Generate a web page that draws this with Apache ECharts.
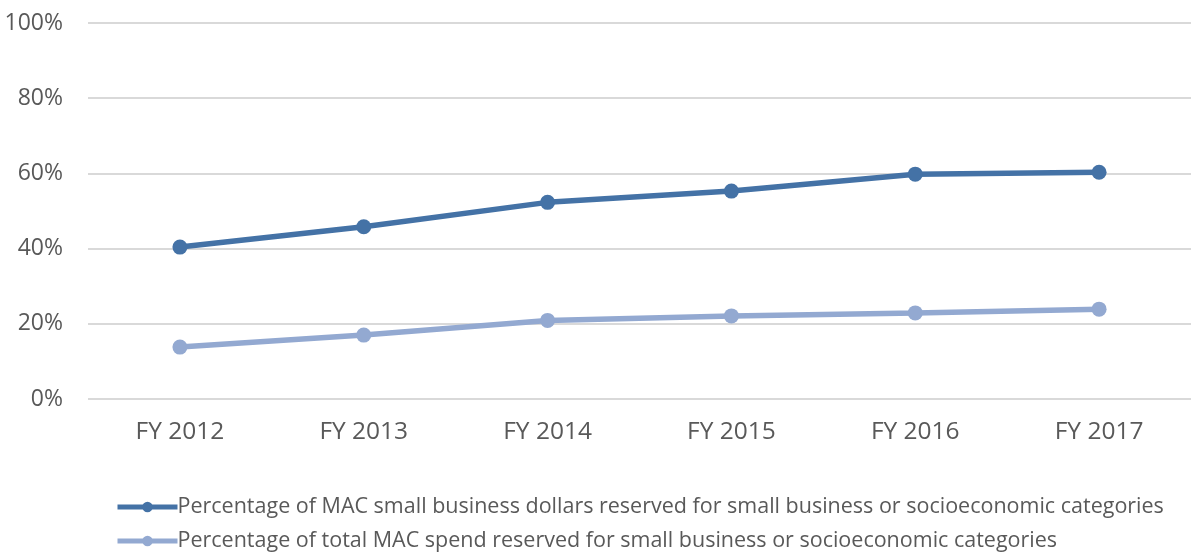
<!DOCTYPE html>
<html>
<head>
<meta charset="utf-8">
<script src="https://cdn.jsdelivr.net/npm/echarts@6/dist/echarts.min.js"></script>
<style>
  html, body { margin: 0; padding: 0; background: #ffffff; }
  #chart { width: 1191px; height: 554px; }
</style>
</head>
<body>
<div id="chart"></div>
<script>
// data
const years = ['FY 2012', 'FY 2013', 'FY 2014', 'FY 2015', 'FY 2016', 'FY 2017'];
const smallBizDollars = [40.4, 45.8, 52.3, 55.3, 59.8, 60.3];
const totalSpend = [13.8, 17.0, 20.9, 22.1, 22.9, 23.9];
const seriesNames = [
  'Percentage of MAC small business dollars reserved for small business or socioeconomic categories',
  'Percentage of total MAC spend reserved for small business or socioeconomic categories'
];

const chart = echarts.init(document.getElementById('chart'));
const textFont = 'Open Sans';

chart.setOption({
  animation: false,
  grid: {
    left: 88,
    right: -7,
    top: 23,
    bottom: 155
  },
  legend: {
    orient: 'vertical',
    left: 115,
    top: 496,
    padding: 0,
    itemGap: 12,
    itemWidth: 60,
    itemHeight: 13,
    data: seriesNames,
    lineStyle: { width: 5 },
    textStyle: {
      fontFamily: textFont,
      fontSize: 21.5,
      color: '#595959',
      padding: [0, 0, 0, -5]
    }
  },
  xAxis: {
    type: 'category',
    data: years,
    axisLine: { show: false },
    axisTick: { show: false },
    axisLabel: {
      margin: 21,
      fontFamily: textFont,
      fontSize: 24.5,
      color: '#595959'
    }
  },
  yAxis: {
    type: 'value',
    min: 0,
    max: 100,
    interval: 20,
    axisLabel: {
      formatter: '{value}%',
      margin: 25,
      fontFamily: textFont,
      fontSize: 23,
      color: '#595959'
    },
    splitLine: { lineStyle: { color: '#d9d9d9', width: 2 } }
  },
  series: [
    {
      name: seriesNames[0],
      type: 'line',
      data: smallBizDollars,
      symbol: 'circle',
      symbolSize: 15,
      lineStyle: { width: 5.5, color: '#4472a6' },
      itemStyle: { color: '#4472a6' }
    },
    {
      name: seriesNames[1],
      type: 'line',
      data: totalSpend,
      symbol: 'circle',
      symbolSize: 15,
      lineStyle: { width: 5.5, color: '#93a9d1' },
      itemStyle: { color: '#93a9d1' }
    }
  ]
});
</script>
</body>
</html>
